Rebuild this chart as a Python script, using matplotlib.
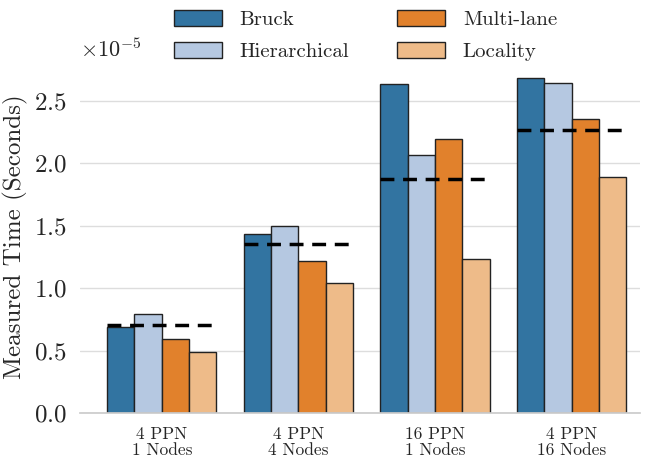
import numpy as np
import matplotlib.pyplot as plt
import seaborn as sns

groups = ["4 PPN\n1 Nodes", "4 PPN\n4 Nodes", "16 PPN\n1 Nodes", "4 PPN\n16 Nodes"]
methods = ["Bruck", "Hierarchical", "Multi-lane", "Locality"]
bruck = [0.69, 1.435, 2.636, 2.684]
hierarchical = [0.79, 1.50, 2.067, 2.644]
multilane = [0.595, 1.22, 2.196, 2.356]
locality = [0.49, 1.045, 1.236, 1.891]
reference = [0.705, 1.354, 1.877, 2.268]
scale = 1e-5

sns.set_theme(style="whitegrid")
plt.rcParams["font.family"] = ["cmr10"]
plt.rcParams["mathtext.fontset"] = "cm"
plt.rcParams["axes.formatter.use_mathtext"] = True

base = sns.color_palette("tab20", 4)
colors = [sns.desaturate(c, 0.75) for c in base]

fig = plt.figure(figsize=(6.49, 4.58), dpi=100)
ax = fig.add_axes([0.123, 0.098, 0.863, 0.769])

x = np.arange(len(groups))
w = 0.2
series = [bruck, hierarchical, multilane, locality]
for i, (name, vals) in enumerate(zip(methods, series)):
    ax.bar(x - 0.3 + i * w, np.array(vals) * scale, w, color=colors[i],
           edgecolor="#222222", linewidth=1.0, label=name, zorder=2)

ax.hlines(np.array(reference) * scale, x - 0.4, x + 0.4, colors="black",
          linestyles=(0, (4, 2.5)), linewidth=2.5, zorder=3)

ax.set_xlim(-0.6, 3.5)
ax.set_xticks(x)
ax.set_xticklabels(groups, fontsize=12.5, linespacing=1.05)
ax.tick_params(axis="y", labelsize=18)
ax.yaxis.get_offset_text().set_fontsize(16)
ax.set_ylabel("Measured Time (Seconds)", fontsize=18)
ax.grid(axis="x", visible=False)
ax.grid(axis="y", color="#dddddd")
ax.set_axisbelow(True)
for s in ["left", "top", "right"]:
    ax.spines[s].set_visible(False)
ax.spines["bottom"].set_color("#cccccc")

fig.legend(loc="upper left", bbox_to_anchor=(174 / 649, 1 - 10 / 458), ncol=2,
           frameon=False, borderpad=0, borderaxespad=0,
           fontsize=15, handlelength=2.3, handleheight=0.8, handletextpad=0.85,
           columnspacing=2.3, labelspacing=0.62)

fig.savefig("out.png", dpi=100)
